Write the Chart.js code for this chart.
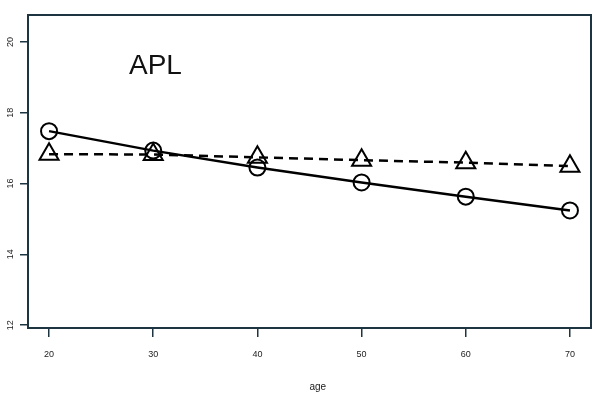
<!DOCTYPE html>
<html>
<head>
<meta charset="utf-8">
<script src="https://cdn.jsdelivr.net/npm/chart.js@4"></script>
<style>
  html, body { margin: 0; padding: 0; background: #fff; overflow: hidden; }
  canvas { display: block; }
</style>
</head>
<body>
<canvas id="chart" width="604" height="406"></canvas>
<script>
// Data
const ages = [20, 30, 40, 50, 60, 70];
const solidValues = [17.48, 16.93, 16.45, 16.03, 15.63, 15.24];   // circles, solid line
const dashedValues = [16.83, 16.82, 16.74, 16.66, 16.59, 16.49];  // triangles, dashed line
const xTicks = [20, 30, 40, 50, 60, 70];
const yTicks = [12, 14, 16, 18, 20];
const panelTitle = 'APL';
const xTitle = 'age';

const frameColor = '#1d3540';

// Box, rotated y labels and text
const framePlugin = {
    id: 'frame',
    afterDraw(chart) {
        const { ctx, chartArea: a, scales } = chart;
        ctx.save();
        ctx.strokeStyle = frameColor;
        ctx.lineWidth = 2;
        ctx.strokeRect(a.left, a.top, a.right - a.left, a.bottom - a.top);

        // y tick labels, rotated like R
        ctx.fillStyle = '#222';
        ctx.font = '9px "Liberation Sans", Arial, sans-serif';
        ctx.textAlign = 'center';
        ctx.textBaseline = 'middle';
        yTicks.forEach(v => {
            const y = scales.y.getPixelForValue(v);
            ctx.save();
            ctx.translate(11, y);
            ctx.rotate(-Math.PI / 2);
            ctx.fillText(String(v), 0, 0);
            ctx.restore();
        });

        // panel label
        ctx.fillStyle = '#111';
        ctx.font = '28px "Liberation Sans", Arial, sans-serif';
        ctx.textAlign = 'left';
        ctx.textBaseline = 'middle';
        ctx.fillText(panelTitle, 129, 66);

        // x title
        ctx.font = '10px "Liberation Sans", Arial, sans-serif';
        ctx.textAlign = 'center';
        ctx.fillStyle = '#222';
        ctx.fillText(xTitle, scales.x.getPixelForValue(45.8), 387);
        ctx.restore();
    }
};

new Chart(document.getElementById('chart'), {
    type: 'line',
    data: {
        datasets: [
            {
                data: ages.map((a, i) => ({ x: a, y: solidValues[i] })),
                borderColor: '#000',
                borderWidth: 2.5,
                pointStyle: 'circle',
                pointRadius: 8,
                pointBorderWidth: 2,
                pointBorderColor: '#000',
                pointBackgroundColor: 'rgba(0,0,0,0)',
                tension: 0
            },
            {
                data: ages.map((a, i) => ({ x: a, y: dashedValues[i] })),
                borderColor: '#000',
                borderWidth: 2.5,
                borderDash: [9, 6],
                pointStyle: 'triangle',
                pointRadius: 11,
                pointBorderWidth: 2,
                pointBorderColor: '#000',
                pointBackgroundColor: 'rgba(0,0,0,0)',
                tension: 0
            }
        ]
    },
    options: {
        responsive: false,
        animation: false,
        layout: { padding: { top: 15, right: 9, left: 0, bottom: 0 } },
        plugins: {
            legend: { display: false },
            tooltip: { enabled: false }
        },
        scales: {
            x: {
                type: 'linear',
                min: 17.98,
                max: 72.02,
                afterBuildTicks: s => { s.ticks = xTicks.map(v => ({ value: v })); },
                afterFit: s => { s.height = 78; s.paddingLeft = 0; s.paddingRight = 0; },
                grid: { drawOnChartArea: false, drawTicks: true, tickLength: 9, color: frameColor, lineWidth: 1.5 },
                border: { display: false },
                ticks: { color: '#222', padding: 12, maxRotation: 0, font: { size: 9, family: '"Liberation Sans", Arial, sans-serif' } }
            },
            y: {
                type: 'linear',
                min: 11.92,
                max: 20.76,
                afterBuildTicks: s => { s.ticks = yTicks.map(v => ({ value: v })); },
                afterFit: s => { s.width = 28; s.paddingTop = 0; s.paddingBottom = 0; },
                grid: { drawOnChartArea: false, drawTicks: true, tickLength: 8, color: frameColor, lineWidth: 1.5 },
                border: { display: false },
                ticks: { display: false }
            }
        }
    },
    plugins: [framePlugin]
});
</script>
</body>
</html>
